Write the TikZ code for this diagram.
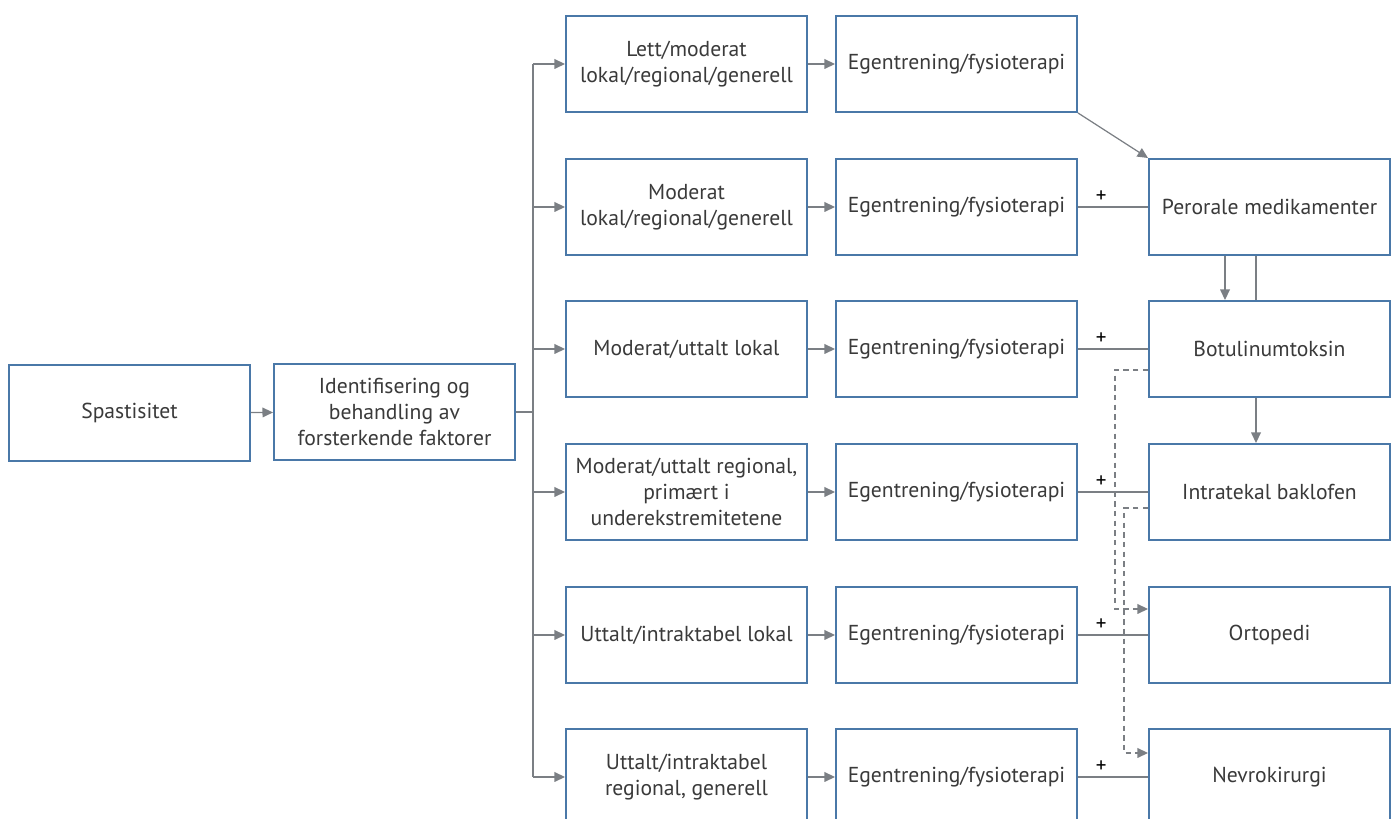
\documentclass[tikz,border=0pt]{standalone}
\usepackage{fontspec}
\setmainfont{PT Sans}
\definecolor{boxblue}{HTML}{4A78A8}
\definecolor{linegray}{HTML}{7B7F84}
\definecolor{textgray}{HTML}{3A3A3A}
\usetikzlibrary{arrows.meta, positioning}

\begin{document}
\begin{tikzpicture}[
  box/.style={draw=boxblue, line width=1.1pt, fill=white, minimum width=4.82cm,
    minimum height=1.92cm, align=center, text=textgray, inner sep=2pt,
    font=\fontsize{12.3}{14.8}\selectfont},
  link/.style={draw=linegray, line width=0.7pt},
  arr/.style={link, -{Triangle[length=6pt, width=5.5pt]}},
  dashlink/.style={arr, dash pattern=on 3pt off 2.5pt},
  plus/.style={font=\fontsize{12}{12}\selectfont, text=black, inner sep=2pt}
]
  \useasboundingbox (0,0) rectangle (27.9,-16.38);

  \node[box] (spast) at (2.59,-8.26) {Spastisitet};
  \node[box] (ident) at (7.89,-8.24) {Identifisering og\\behandling av\\forsterkende faktorer};
  \coordinate (trunk) at (10.66,-8.24);

  % severity levels
  \node[box] (sev1) at (13.73,-1.28) {Lett/moderat\\lokal/regional/generell};
  \node[box] (sev2) at (13.73,-4.14) {Moderat\\lokal/regional/generell};
  \node[box] (sev3) at (13.73,-6.98) {Moderat/uttalt lokal};
  \node[box] (sev4) at (13.73,-9.84) {Moderat/uttalt regional,\\primært i\\underekstremitetene};
  \node[box] (sev5) at (13.73,-12.70) {Uttalt/intraktabel lokal};
  \node[box] (sev6) at (13.73,-15.54) {Uttalt/intraktabel\\regional, generell};

  \foreach \i/\y in {1/-1.28, 2/-4.14, 3/-6.98, 4/-9.84, 5/-12.70, 6/-15.54}
    \node[box] (egen\i) at (19.13,\y) {Egentrening/fysioterapi};

  % treatments
  \node[box] (oral)  at (25.39,-4.14)  {Perorale medikamenter};
  \node[box] (botox) at (25.39,-6.98)  {Botulinumtoksin};
  \node[box] (itb)   at (25.39,-9.84)  {Intratekal baklofen};
  \node[box] (orto)  at (25.39,-12.70) {Ortopedi};
  \node[box] (nevro) at (25.39,-15.54) {Nevrokirurgi};

  \draw[arr] (spast) -- (ident);
  \draw[link] (ident.east) -- (trunk);
  \draw[link] (trunk |- sev1) -- (trunk |- sev6);
  \foreach \i in {1,...,6} {
    \draw[arr] (trunk |- sev\i) -- (sev\i.west);
    \draw[arr] (sev\i) -- (egen\i);
  }

  \draw[arr] (egen1.south east) -- (oral.north west);
  \draw[link] (egen2) -- node[pos=0.33, above, plus] {+} (oral);
  \draw[link] (egen3) -- node[pos=0.33, above, plus] {+} (botox);
  \draw[link] (egen4) -- node[pos=0.33, above, plus] {+} (itb);
  \draw[link] (egen5) -- node[pos=0.33, above, plus] {+} (orto);
  \draw[link] (egen6) -- node[pos=0.33, above, plus] {+} (nevro);

  \draw[arr] ([xshift=-0.89cm]oral.south) -- ([xshift=-0.89cm]botox.north);
  \draw[link] ([xshift=-0.27cm]oral.south) -- ([xshift=-0.27cm]botox.north);
  \draw[arr] ([xshift=-0.27cm]botox.south) -- ([xshift=-0.27cm]itb.north);

  \draw[dashlink] ([yshift=-0.42cm]botox.west) -- ++(-0.66,0) |- ([yshift=0.52cm]orto.west);
  \draw[dashlink] ([yshift=-0.32cm]itb.west) -- ++(-0.48,0) |- ([yshift=0.48cm]nevro.west);
\end{tikzpicture}
\end{document}
